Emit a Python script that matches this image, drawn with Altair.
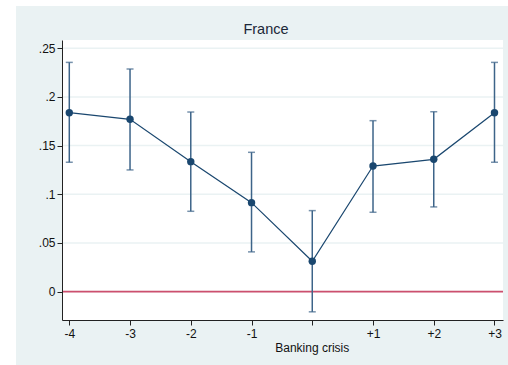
import altair as alt
import pandas as pd

# Event-time estimates around a banking crisis (France)
periods = [-4, -3, -2, -1, 0, 1, 2, 3]
estimate = [0.1838, 0.1770, 0.1335, 0.0914, 0.0312, 0.1290, 0.1359, 0.1838]
ci_low = [0.1329, 0.1250, 0.0825, 0.0408, -0.0208, 0.0815, 0.0870, 0.1329]
ci_high = [0.2355, 0.2287, 0.1845, 0.1431, 0.0832, 0.1756, 0.1848, 0.2355]
y_ticks = [0, 0.05, 0.1, 0.15, 0.2, 0.25]
y_tick_labels = ["0", ".05", ".1", ".15", ".2", ".25"]

df = pd.DataFrame({"t": periods, "b": estimate, "lo": ci_low, "hi": ci_high})
grid_df = pd.DataFrame({"v": y_ticks})
one = pd.DataFrame({"k": [0]})

W, H = 441, 280
NAVY = "#1a476f"
BAR = "#3d6489"
FRAME = "#eaf2f3"
FONT = "Liberation Sans"

x_scale = alt.Scale(domain=[-4.12, 3.14], nice=False, zero=False)
y_scale = alt.Scale(domain=[-0.0292, 0.2585], nice=False, zero=False)

label_map = "{" + ", ".join(f"'{v}': '{l}'" for v, l in zip(y_ticks, y_tick_labels)) + "}"

x_axis = alt.Axis(
    values=periods, grid=False, title=None, zindex=1,
    labelExpr="datum.value == 0 ? '' : (datum.value > 0 ? '+' + datum.value : '' + datum.value)",
    domainColor="#222222", tickColor="#222222", tickSize=5, labelPadding=3,
    labelFont=FONT, labelFontSize=12, labelColor="#111111",
)
y_axis = alt.Axis(
    values=y_ticks, grid=False, title=None, zindex=1,
    labelExpr=label_map + "[datum.value + '']",
    domainColor="#222222", tickColor="#222222", tickSize=5, labelPadding=2,
    labelFont=FONT, labelFontSize=12, labelColor="#111111",
)

# Outer shaded frame and white plot region
frame = alt.Chart(one).mark_rect(color=FRAME).encode(
    x=alt.value(-46), x2=alt.value(W + 5), y=alt.value(-34), y2=alt.value(H + 45)
)
plot_bg = alt.Chart(one).mark_rect(color="white").encode(
    x=alt.value(0), x2=alt.value(W), y=alt.value(0), y2=alt.value(H)
)

grid = alt.Chart(grid_df).mark_rule(color=FRAME, strokeWidth=1.5).encode(
    y=alt.Y("v:Q", scale=y_scale, axis=y_axis),
    x=alt.value(0), x2=alt.value(W),
)

zero_line = alt.Chart(one).mark_rule(color="#cc4f6e", strokeWidth=1.6).encode(
    y=alt.datum(0), x=alt.value(0), x2=alt.value(W)
)

bars = alt.Chart(df).mark_rule(color=BAR, strokeWidth=1.5).encode(
    x=alt.X("t:Q", scale=x_scale, axis=x_axis),
    y=alt.Y("lo:Q", scale=y_scale),
    y2="hi:Q",
)
cap_lo = alt.Chart(df).mark_tick(color=BAR, orient="horizontal", size=7, thickness=1.5).encode(
    x=alt.X("t:Q", scale=x_scale), y=alt.Y("lo:Q", scale=y_scale)
)
cap_hi = alt.Chart(df).mark_tick(color=BAR, orient="horizontal", size=7, thickness=1.5).encode(
    x=alt.X("t:Q", scale=x_scale), y=alt.Y("hi:Q", scale=y_scale)
)

line = alt.Chart(df).mark_line(color=NAVY, strokeWidth=1.2).encode(
    x=alt.X("t:Q", scale=x_scale), y=alt.Y("b:Q", scale=y_scale)
)
points = alt.Chart(df).mark_circle(color=NAVY, size=55, opacity=1).encode(
    x=alt.X("t:Q", scale=x_scale), y=alt.Y("b:Q", scale=y_scale)
)

title = alt.Chart(one).mark_text(
    text="France", font=FONT, fontSize=14.5, color="#1c2838", baseline="middle", align="center"
).encode(x=alt.value(204), y=alt.value(-10))

xtitle = alt.Chart(one).mark_text(
    text="Banking crisis", font=FONT, fontSize=12, color="#111111", baseline="middle", align="center"
).encode(x=alt.X("k:Q", scale=x_scale), y=alt.value(H + 28))

chart = alt.layer(
    frame, plot_bg, grid, zero_line, bars, cap_lo, cap_hi, line, points, title, xtitle
).properties(
    width=W, height=H,
    autosize=alt.AutoSizeParams(type="none"),
    padding={"left": 62, "top": 40, "right": 5, "bottom": 45},
    background="white",
).configure_view(stroke=None)

chart.save("out.html", embed_options={"renderer": "svg", "actions": False})
